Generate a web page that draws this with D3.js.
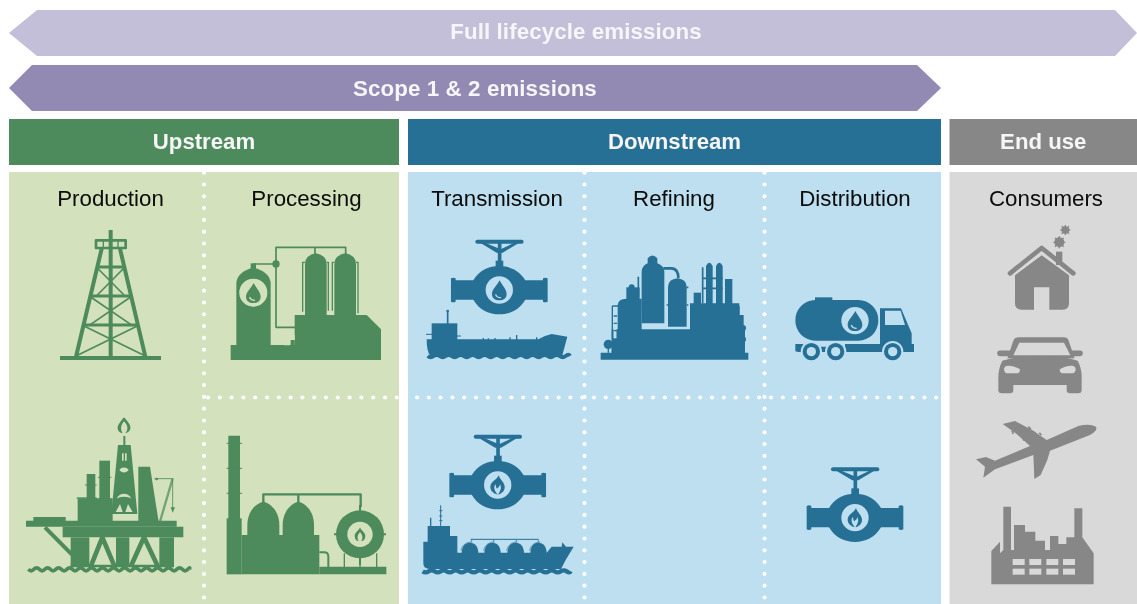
<!DOCTYPE html>
<html><head><meta charset="utf-8">
<style>html,body{margin:0;padding:0;background:#fff}svg{display:block}text{font-family:"Liberation Sans",Arial,sans-serif}</style>
<script src="https://cdn.jsdelivr.net/npm/d3@7/dist/d3.min.js"></script></head><body>
<svg id="c" width="1137" height="604"></svg>
<script>
const scopeLabels=["Full lifecycle emissions","Scope 1 & 2 emissions"];
const sections=["Upstream","Downstream","End use"];
const stages=["Production","Processing","Transmission","Refining","Distribution","Consumers"];

const W=1137,H=604;
const colors={Upstream:["#4d8a5c","#d3e1bc"],Downstream:["#266f96","#bddfef"],"End use":["#878787","#d9d9d9"]};
const sectionX=d3.scaleOrdinal().domain(sections).range([[9,399],[408,941],[949.5,1137]]);
const stageX=d3.scaleOrdinal().domain(stages).range([110.5,306.5,497,674,855,1046]);
const svg=d3.select("#c");
svg.append("defs").append("filter").attr("id","soft").attr("x","-2%").attr("y","-2%").attr("width","104%").attr("height","104%")
  .append("feGaussianBlur").attr("stdDeviation",0.4);
const root=svg.append("g").attr("filter","url(#soft)");

// scope arrows
const arrows=[
 {label:scopeLabels[0],x0:9,s0:37,s1:1115,x1:1137,y0:10,y1:56,fill:"#c3bfd8",cx:576,by:39},
 {label:scopeLabels[1],x0:9,s0:32,s1:917,x1:941,y0:65,y1:111,fill:"#938ab3",cx:475,by:96}];
root.selectAll("path.arrow").data(arrows).join("path").attr("class","arrow").attr("fill",d=>d.fill)
 .attr("d",d=>`M${d.x0} ${(d.y0+d.y1)/2}L${d.s0} ${d.y0}H${d.s1}L${d.x1} ${(d.y0+d.y1)/2}L${d.s1} ${d.y1}H${d.s0}Z`);
root.selectAll("text.arrow").data(arrows).join("text").attr("class","arrow").attr("x",d=>d.cx).attr("y",d=>d.by)
 .attr("text-anchor","middle").attr("fill","#f6f6f8").attr("font-weight","700").attr("font-size",22.3).attr("letter-spacing",0.1).text(d=>d.label);

// section headers and panels
root.selectAll("rect.head").data(sections).join("rect").attr("class","head")
 .attr("x",d=>sectionX(d)[0]).attr("width",d=>sectionX(d)[1]-sectionX(d)[0]).attr("y",119).attr("height",46).attr("fill",d=>colors[d][0]);
root.selectAll("rect.panel").data(sections).join("rect").attr("class","panel")
 .attr("x",d=>sectionX(d)[0]).attr("width",d=>sectionX(d)[1]-sectionX(d)[0]).attr("y",172).attr("height",H-172).attr("fill",d=>colors[d][1]);
root.selectAll("text.head").data(sections).join("text").attr("class","head")
 .attr("x",d=>(sectionX(d)[0]+sectionX(d)[1])/2).attr("y",149).attr("text-anchor","middle")
 .attr("fill","#f6f6f6").attr("font-weight","700").attr("font-size",22.2).text(d=>d);
root.selectAll("text.stage").data(stages).join("text").attr("class","stage")
 .attr("x",d=>stageX(d)).attr("y",206).attr("text-anchor","middle").attr("fill","#0a0a0a").attr("font-size",22.3).text(d=>d);

// dotted separators
const dots=root.append("g").attr("fill","#fff");
[204,584.5,764.5].forEach(x=>{
  d3.range(172.7,604,11.8).forEach(y=>dots.append("circle").attr("cx",x).attr("cy",y).attr("r",2.1));
});
[[204,399],[413,941]].forEach(([a,b])=>{
  d3.range(a+4,b+1,11.8).forEach(x=>dots.append("circle").attr("cx",x).attr("cy",397.5).attr("r",2.1));
});

// pictogram helpers (units are 1/3 px)
const R=(x,y,w,h)=>`M${x} ${y}h${w}v${h}h${-w}Z`;
const C=(x,y,r)=>`M${x-r} ${y}a${r} ${r} 0 1 0 ${2*r} 0a${r} ${r} 0 1 0 ${-2*r} 0Z`;
const wave=(a,b,y,p,amp)=>{let s=`M${a} ${y}`;let up=true;for(let x=a;x<b;x+=p/2){s+=`Q${x+p/4} ${y+(up?amp:-amp)} ${Math.min(x+p/2,b)} ${y}`;up=!up;}return s;};
const F=(d)=>({d,f:"fg"}), B=(d)=>({d,f:"bg"}), S=(d,w,c="fg",o)=>({d,s:c,w,o}), RS=(d,w)=>({d,s:"fg",w,cap:"round"});
const drop=[B(C(0,0,41)),F("M1 -29C8 -14 22 -2 22 12C22 25 12 31 0 31C-12 31 -22 25 -22 12C-22 -2 -6 -14 1 -29Z"),S("M-11 13C-9 20 -3 23 5 23",4,"bg")];
const flame=[B(C(0,0,41)),F("M3 -29C6 -16 21 -8 21 6C21 18 12 26 2 29C5 20 14 12 7 -2C5 6 2 8 0 8C-2 14 -5 10 -6 -2C-16 8 -6 22 0 29C-14 26 -23 16 -22 4C-21 -10 -4 -14 3 -29Z")];
const valve=[
  RS("M-66 -145H67",12),F("M-60 -143L-8 -112H10L62 -143H48L4 -122L-46 -143Z"),S("M1 -145V-85",11),F(R(-11,-88,23,20)),
  F("M-78 -29C-60 -60 -30 -72 0 -72C30 -72 60 -60 78 -29H131V-35Q138 -39 145 -35V35Q138 39 131 35V29H78C60 60 30 73 0 73C-30 73 -60 60 -78 29H-131V35Q-138 39 -145 35V-35Q-138 -39 -131 -35V-29Z")
];
const derrick=[
 S("M332 180V565",12),S(R(288,211,89,23),8),S("M310 212V234M354 212V234",4),
 S("M305 236L228 560M360 236L436 560",12),
 S("M290 291H375M272 378H392M250 465H414",9),
 S("M292 294L372 375M372 294L292 375M272 381L392 463M392 381L272 463M252 468L436 558M412 468L228 558",5),
 S("M180 564H483",12)];
const processing=[
 F(R(692,525,451,45)),F("M709 530V340Q711 305 760 293Q810 305 812 340V530Z"),F(R(752,280,16,20)),
 B(C(760,368,42)),
 S("M760 282H828V232H1037V252M945 232V252M828 282V472H890",5),F(C(828,282,11)),
 F("M884 530V435H1100L1143 478V530Z"),
 F("M915 440V282Q915 256 947 250Q980 256 980 282V440Z"),F("M1003 440V282Q1003 256 1036 250Q1068 256 1068 282V440Z"),
 S("M908 425V277H915M985 422V277H980M997 422V277H1003M1074 430V277H1068",4),
 B("M852 526Q852 495 884 495V510Q868 510 868 526Z"),F(R(872,510,12,16)),
];
const offshore=[
 F("M372 82C383 95 393 105 391 116C390 124 382 128 376 130C384 120 386 108 372 94C360 108 362 120 368 130C360 128 354 124 353 116C352 105 362 95 372 82Z"),
 S("M373 138V168",6),
 F("M354 165H392L412 372H334Z"),
 F(R(298,212,32,115)),F(R(260,252,26,75)),S("M255 285H290M294 262H334",3),
 F("M415 230H450L476 396H415Z"),
 F(R(233,325,105,70)),S("M230 324H290",4),
 F("M78 392H100V381H197V392H530V410H78Z"),F(R(188,410,362,32)),
 F(R(212,442,56,88)),F(R(348,442,40,88)),F(R(478,442,44,88)),
 S("M135 412L216 494",12),
 S("M272 530L307 442L344 530M392 530L432 442L474 530",14),
 S("M212 528H522",7),
 S(wave(85,568,538,33,9),11),
 B("M366 190h5v22h-5ZM375 190h5v22h-5ZM358 240C364 230 380 230 386 240C380 250 364 250 358 240ZM350 326C358 306 386 306 394 326C386 318 358 318 350 326ZM347 366L360 342L368 366ZM398 366L384 342L376 366Z"),
 S("M480 395L518 265",7,"fg",.72),S("M463 266H518V360",2.5),F("M512 352H525L518 368Z"),F(C(470,267,4)),
];
const gasplant=[
 F(R(685,137,35,260)),S("M680 160H726M680 235H726M680 310H726",3),F(R(680,385,45,168)),
 F("M742 440V405C742 368 765 340 790 335C815 340 838 368 838 405V440Z"),
 F("M848 440V405C848 368 871 340 895 335C920 340 942 368 942 405V440Z"),
 F(R(725,435,233,118)),
 S("M790 340V313H1082V352M895 340V313",7),
 F(C(1080,433,72)),S("M1002 433H1016M1144 433H1158M1080 345V365M1080 500V525",6),
 F(R(958,530,201,23)),S("M1033 490V532M1080 500V532M1130 490V532",4),
 S("M958 487H972Q985 487 985 500V532",6),
 B(C(1080,433,38)),
 F("M1080 412C1083 422 1096 428 1096 438C1096 448 1090 452 1084 454C1088 446 1090 438 1080 426C1070 438 1072 446 1076 454C1070 452 1064 448 1064 438C1064 428 1077 422 1080 412Z"),
];
const tanker=[
 S("M128 302V342",5),F(C(128,303,4)),F(R(80,340,77,54)),S("M63 373H82M155 378H168",3),
 F("M65 388H400L420 378L440 372L487 380L472 436H75Q65 424 65 388Z"),
 S("M235 390V384M250 390V385M270 390V384M315 390V382M335 390V375M395 390V382",4),
 S(wave(68,495,438,36,7),12),
];
const refinery=[
 F(R(587,428,443,21)),F(R(620,358,400,72)),F(C(610,403,14)),S("M610 403V428M622 415V428",4),
 F("M638 360V285Q640 266 664 266H710V360Z"),F(R(664,232,40,40)),F(C(680,232,9)),
 F("M710 360V185Q712 165 728 160V145Q742 128 757 145V160Q778 168 778 185V340H710Z"),
 S("M775 175H800Q820 176 820 205",8),
 F("M789 350V230Q790 208 817 205Q844 208 845 230V350Z"),S("M700 200V260M845 232H850M845 285H850M790 285H785",5),
 F("M855 360V280H1003V315H1016V360Z"),F(R(866,248,22,34)),
 F("M903 282V168Q913 148 923 168V282Z"),F("M933 282V168Q943 148 953 168V282Z"),F(R(960,207,22,75)),
 S("M893 172V280M893 205H953M893 235H953",5),
 S("M985 290H1002V315",4),F(C(1014,354,9)),F(C(1014,388,9)),
 S("M622 288H640M622 288V390",4),S("M630 305V385",9,"bg"),S("M626 318H636M626 340H636M626 362H636",4),
];
const lng=[
 S("M107 256V318M103 272H112M103 288H112M103 302H112",3),S("M77 293V322",4),
 F("M55 440V365H68V318H135V348H157V398H425L440 380H470L472 367L483 380H506L482 420L468 447H75Q55 447 55 430Z"),
 S("M197 358H400",3),
 F("M170 400C170 380 180 368 195 368C210 368 220 380 220 400Z"),F("M238 400C238 380 248 368 262 368C277 368 287 380 287 400Z"),
 F("M307 400C307 380 317 368 332 368C347 368 357 380 357 400Z"),F("M376 400C376 380 386 368 400 368C415 368 425 380 425 400Z"),
 S("M168 392C170 376 185 366 200 366M236 392C238 376 253 366 268 366M305 392C307 376 322 366 337 366M374 392C376 376 391 366 406 366",2),
 S("M200 358V367M266 358V367M334 358V367M400 358V367",2),
 S(wave(53,497,454,36,6),13),
];
const truck=[
 F(R(135,262,52,12)),F("M136 270H265A60 60 0 0 1 325 331A60 60 0 0 1 265 392H136A60 60 0 0 1 76 331A60 60 0 0 1 136 270Z"),
 F("M330 295H393L425 370V402H432V426H225V402H330Z"),B("M345 302H392L405 345H345Z"),
 F("M76 402H100V410H225V426H85L76 424Z"),
 B(C(124,425,32)),B(C(197,425,32)),B(C(368,425,32)),
 F(C(124,425,26)),F(C(197,425,26)),F(C(368,425,26)),
 B(C(124,425,14)),B(C(197,425,14)),B(C(368,425,14)),
];
const house=[
 F(R(858,125,19,40)),
 F(C(868,97,15)),F(C(886,60,11.5)),
 S("M868 79V115M850 97H886M855 84L881 110M881 84L855 110M886 45V75M871 60H901M875 49L897 71M897 49L875 71",4),
 RS("M720 190L815 114L910 190",14),
 F("M735 196L815 136L897 196V280Q897 299 878 299H838V232H792V299H755Q735 299 735 280Z"),
];
const car=[
 RS("M690 430H725M900 430H930",17),
 F("M712 445L730 392Q734 382 746 382H882Q892 382 896 392L914 445Z"),B("M730 436L748 398H882L901 436Z"),
 F("M697 452Q740 438 810 438Q880 438 923 452Q936 475 935 505V540Q935 550 925 550H900Q890 550 890 540V525H730V540Q730 550 720 550H695Q685 550 685 540V505Q685 475 697 452Z"),
 B("M702 476Q704 467 714 467Q735 468 750 478Q750 488 744 490H712Q702 488 702 476Z"),
 B("M917 476Q915 467 905 467Q884 468 869 478Q869 488 875 490H907Q917 488 917 476Z"),
];
const plane=[F("M78 148L108 141L135 152L240 108L200 72L158 42L195 33L250 62L290 90L385 48Q420 40 438 50Q444 62 420 75L300 122L292 150L272 195L253 207L250 135L135 178L100 203L105 170Z"),
 S("M186 62L190 72M218 82L222 92M235 50L243 58M268 68L274 76M262 160L256 162M260 178L254 180",5)];
const factory=[F("M124 523V423L150 395V430L160 420V290H183V420H192V345H225V365H256V392H285V420H300V378H325V402H349V382H373V295H397V382L431 430V523Z"),
 ...[188,238,289,339].flatMap(x=>[B(R(x,447,36,18)),B(R(x,476,36,18))])];

// each pictogram: [section, glyph, crop origin x, y]
const icons=[
 ["Upstream",derrick,0,170],["Upstream",processing,0,170],["Upstream",offshore,0,390],["Upstream",gasplant,0,390],
 ["Downstream",tanker,405,210],["Downstream",refinery,405,210],["Downstream",lng,405,420],["Downstream",truck,770,210],
 ["End use",house,770,210],["End use",car,770,210],["End use",plane,950,410],["End use",factory,950,410]];
const iconLayer=root.append("g");
function draw(glyph,sec,tx){
  const fg=colors[sec][0],bg=colors[sec][1];
  const g=iconLayer.append("g").attr("transform",tx);
  g.selectAll("path").data(glyph).join("path").attr("d",d=>d.d)
   .attr("fill",d=>d.f?(d.f==="fg"?fg:bg):"none")
   .attr("stroke",d=>d.s?(d.s==="fg"?fg:bg):"none")
   .attr("stroke-width",d=>d.w||0).attr("stroke-opacity",d=>d.o||1)
   .attr("stroke-linejoin","round").attr("stroke-linecap",d=>d.cap||"butt");
}
icons.forEach(([s,gl,x,y])=>draw(gl,s,`translate(${x},${y}) scale(${1/3})`));
// drop insets on the tank and the truck
const insets=[["Upstream",0,170,760,368],["Downstream",770,210,255,332]];
insets.forEach(([s,x,y,cx,cy])=>draw(drop,s,`translate(${x+cx/3},${y+cy/3}) scale(${1/3})`));
// valves with inner glyph
const valves=[[499.3,290,drop],[497.7,485,flame],[855,517.7,flame]];
valves.forEach(([x,y,ins])=>{
  draw(valve,"Downstream",`translate(${x},${y}) scale(${1/3})`);
  draw(ins,"Downstream",`translate(${x},${y}) scale(${1/3})`);
});
</script></body></html>
